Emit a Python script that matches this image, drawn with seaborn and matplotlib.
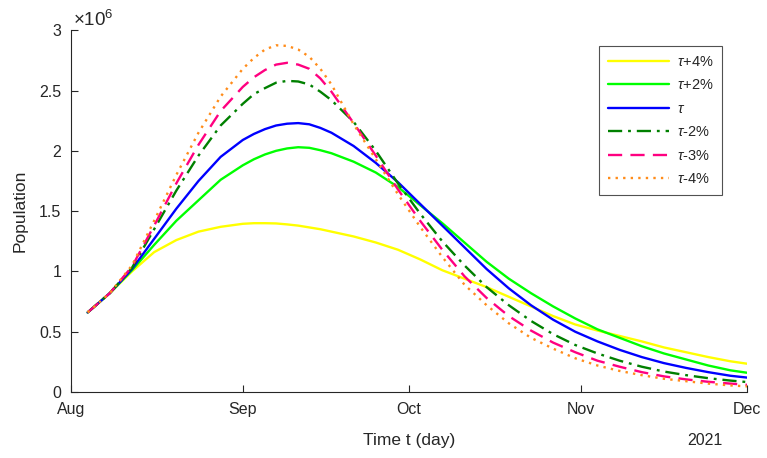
import pandas as pd
import numpy as np
import matplotlib
matplotlib.use('Agg')
import matplotlib.pyplot as plt
import matplotlib.dates as mdates
from matplotlib.ticker import FuncFormatter
import seaborn as sns

# days since 1 Aug 2021
days = [3, 7, 11, 15, 19, 23, 27, 31, 33, 35, 37, 39, 41, 43, 45, 47, 51, 55,
        59, 63, 67, 71, 75, 79, 83, 87, 91, 95, 99, 103, 107, 111, 115, 119, 122]

# population, in millions
tau_p4 = [0.66, 0.82, 1.00, 1.16, 1.26, 1.33, 1.37, 1.395, 1.40, 1.40, 1.398,
          1.39, 1.38, 1.365, 1.35, 1.33, 1.29, 1.24, 1.18, 1.10, 1.01, 0.94,
          0.87, 0.79, 0.71, 0.63, 0.56, 0.51, 0.465, 0.42, 0.37, 0.33, 0.29,
          0.255, 0.235]
tau_p2 = [0.66, 0.82, 1.01, 1.22, 1.42, 1.59, 1.76, 1.88, 1.93, 1.97, 2.00,
          2.02, 2.03, 2.025, 2.005, 1.98, 1.91, 1.82, 1.70, 1.55, 1.40, 1.24,
          1.08, 0.94, 0.82, 0.71, 0.61, 0.52, 0.45, 0.38, 0.32, 0.27, 0.22,
          0.18, 0.16]
tau_0 = [0.66, 0.82, 1.02, 1.27, 1.52, 1.75, 1.95, 2.09, 2.14, 2.18, 2.21,
         2.225, 2.23, 2.22, 2.19, 2.15, 2.04, 1.90, 1.74, 1.56, 1.38, 1.20,
         1.02, 0.86, 0.72, 0.60, 0.50, 0.42, 0.35, 0.29, 0.24, 0.20, 0.165,
         0.135, 0.12]
tau_m2 = [0.66, 0.82, 1.03, 1.35, 1.67, 1.96, 2.21, 2.39, 2.47, 2.52, 2.565,
          2.58, 2.575, 2.55, 2.49, 2.42, 2.24, 2.00, 1.73, 1.48, 1.25, 1.05,
          0.87, 0.72, 0.59, 0.48, 0.39, 0.32, 0.26, 0.21, 0.17, 0.14, 0.115,
          0.095, 0.083]
tau_m3 = [0.66, 0.82, 1.04, 1.38, 1.73, 2.05, 2.33, 2.53, 2.61, 2.67, 2.715,
          2.73, 2.715, 2.68, 2.60, 2.49, 2.23, 1.96, 1.68, 1.42, 1.18, 0.96,
          0.78, 0.63, 0.51, 0.41, 0.33, 0.26, 0.21, 0.165, 0.13, 0.105, 0.085,
          0.07, 0.06]
tau_m4 = [0.66, 0.82, 1.05, 1.42, 1.80, 2.15, 2.45, 2.68, 2.77, 2.84, 2.875,
          2.87, 2.84, 2.78, 2.68, 2.55, 2.22, 1.93, 1.64, 1.37, 1.12, 0.89,
          0.72, 0.57, 0.45, 0.36, 0.28, 0.22, 0.175, 0.14, 0.11, 0.09, 0.07,
          0.055, 0.047]

labels = [r'$\tau$+4%', r'$\tau$+2%', r'$\tau$', r'$\tau$-2%', r'$\tau$-3%', r'$\tau$-4%']
series = [tau_p4, tau_p2, tau_0, tau_m2, tau_m3, tau_m4]
colors = ['#FFFF00', '#00FF00', '#0000FF', '#008000', '#FF0080', '#FF8C1A']
styles = [(), (), (), (6, 2.5, 1.2, 2.5), (6, 3.5), (1, 2.2)]

start = pd.Timestamp('2021-08-01')
dates = start + pd.to_timedelta(days, unit='D')

sns.set_style('white')
plt.rcParams['font.family'] = ['Liberation Sans', 'DejaVu Sans']
plt.rcParams['mathtext.fontset'] = 'custom'
plt.rcParams['mathtext.rm'] = 'Liberation Sans'
plt.rcParams['mathtext.it'] = 'Liberation Sans:italic'

fig = plt.figure(figsize=(7.67, 4.58), dpi=100)
ax = fig.add_axes([0.0926, 0.144, 0.8814, 0.790])

for vals, lab, col, dsh in zip(series, labels, colors, styles):
    df = pd.DataFrame({'date': dates, 'pop': np.array(vals) * 1e6})
    sns.lineplot(x='date', y='pop', data=df, ax=ax, color=col,
                 linewidth=1.7, label=lab)
    if dsh:
        ax.lines[-1].set_dashes(dsh)

ax.set_xlim(pd.Timestamp('2021-08-01'), pd.Timestamp('2021-12-01'))
ax.set_ylim(0, 3e6)
ax.set_yticks(np.arange(0, 3.01e6, 0.5e6))
ax.yaxis.set_major_formatter(FuncFormatter(lambda v, p: f'{v / 1e6:g}'))
ax.xaxis.set_major_locator(mdates.MonthLocator())
ax.xaxis.set_major_formatter(mdates.DateFormatter('%b'))

ax.tick_params(direction='in', length=5, width=0.8, labelsize=11.5,
               colors='#262626', pad=7, bottom=True, left=True)
for s in ['top', 'right']:
    ax.spines[s].set_visible(False)
for s in ['left', 'bottom']:
    ax.spines[s].set_color('#262626')
    ax.spines[s].set_linewidth(0.8)

ax.set_xlabel('Time t (day)', fontsize=12.5, color='#262626', labelpad=12)
ax.set_ylabel('Population', fontsize=12.5, color='#262626', labelpad=8)
ax.text(0.938, -0.133, '2021', transform=ax.transAxes, ha='center',
        va='center', fontsize=11.5, color='#262626')
ax.text(0.003, 1.0, r'$\times10^{6}$', transform=ax.transAxes, ha='left',
        va='bottom', fontsize=13.5, color='#262626')

leg = ax.legend(loc='upper right', bbox_to_anchor=(0.963, 0.956),
                borderaxespad=0, fontsize=10.5, handlelength=4.2,
                labelspacing=0.65, fancybox=False, frameon=True,
                borderpad=0.6, handletextpad=0.5)
leg.get_frame().set_edgecolor('#262626')
leg.get_frame().set_linewidth(0.8)

fig.savefig('out.png', dpi=100)
